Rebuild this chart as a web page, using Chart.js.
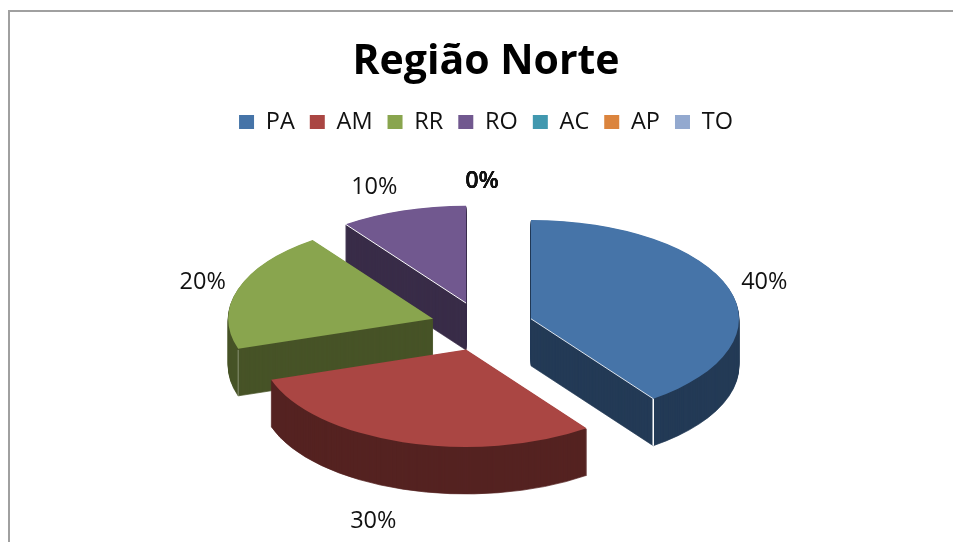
<!DOCTYPE html>
<html>
<head>
<meta charset="utf-8">
<title>Região Norte</title>
<script src="https://cdn.jsdelivr.net/npm/chart.js@4"></script>
<style>
    html, body { margin: 0; padding: 0; background: #fff; overflow: hidden; }
    #frame {
        position: absolute; left: 8px; top: 10px; right: 0; bottom: 0;
        border-left: 2px solid #a0a0a0; border-top: 2px solid #a0a0a0;
    }
    #wrap { position: absolute; left: 0; top: 0; width: 953px; height: 542px; }
</style>
</head>
<body>
<div id="frame"></div>
<div id="wrap"><canvas id="pie"></canvas></div>
<script>
// Data
const estados = ['PA', 'AM', 'RR', 'RO', 'AC', 'AP', 'TO'];
const percentuais = [40, 30, 20, 10, 0, 0, 0];
const cores = ['#4674A8', '#AA4643', '#89A54E', '#71588F', '#4198AF', '#DB843D', '#93A9CF'];
const coresLaterais = ['#233A56', '#552321', '#475327', '#392C48', '#214C58', '#6E421E', '#4A5468'];

// 3D look: flatten the pie and stack darker copies underneath
const tilt = 0.475;
const depth = 47;
const explode = 51.5;
const shiftX = -4;
const shiftY = 2;
const drawOrder = [3, 2, 0, 1];
const sliceScale = [1, 0.985, 0.985, 0.985, 1, 1, 1];
const labelReach = 300;
const labelNudge = [[-3, 0], [-16, 59], [6, 0], [-15, -4], [0, -3], [0, -3], [0, -3]];

const pie3d = {
    id: 'pie3d',
    beforeDatasetsDraw(chart) {
        const ctx = chart.ctx;
        const arcs = chart.getDatasetMeta(0).data;
        const cx = arcs[0].x, cy = arcs[0].y;

        const place = (arc, z, i) => {
            const mid = (arc.startAngle + arc.endAngle) / 2;
            ctx.translate(cx + shiftX + Math.cos(mid) * explode, cy + shiftY + Math.sin(mid) * explode * tilt + z);
            ctx.scale(sliceScale[i], tilt * sliceScale[i]);
            ctx.translate(-cx, -cy);
        };

        // screen position of a rim point of a slice
        const rim = (arc, i, angle, r, z) => {
            const mid = (arc.startAngle + arc.endAngle) / 2;
            const s = sliceScale[i];
            return [
                cx + shiftX + Math.cos(mid) * explode + Math.cos(angle) * r * s,
                cy + shiftY + Math.sin(mid) * explode * tilt + Math.sin(angle) * r * tilt * s + z
            ];
        };

        drawOrder.forEach(i => {
            const arc = arcs[i];
            const own = arc.options;
            // same colour border so the stacked copies leave no seams
            arc.options = Object.assign({}, own, {
                backgroundColor: coresLaterais[i],
                borderColor: coresLaterais[i],
                borderWidth: 1
            });
            for (let z = depth; z > 0; z--) {
                ctx.save();
                place(arc, z, i);
                arc.draw(ctx);
                ctx.restore();
            }
            arc.options = own;
            ctx.save();
            place(arc, 0, i);
            arc.draw(ctx);
            ctx.restore();
        });

        // thin highlights on the slice edges
        const line = (a, b, color, width) => {
            ctx.save();
            ctx.strokeStyle = color;
            ctx.lineWidth = width;
            ctx.beginPath();
            ctx.moveTo(a[0], a[1]);
            ctx.lineTo(b[0], b[1]);
            ctx.stroke();
            ctx.restore();
        };
        const pa = arcs[0], ro = arcs[3], rr = arcs[2];
        line(rim(pa, 0, pa.endAngle, pa.outerRadius, 0), rim(pa, 0, pa.endAngle, pa.outerRadius, depth), '#fff', 1.5);
        line(rim(pa, 0, pa.endAngle, 0, 0), rim(pa, 0, pa.endAngle, pa.outerRadius, 0), '#dfe6ef', 1);
        line(rim(ro, 3, ro.startAngle, 0, 0), rim(ro, 3, ro.startAngle, ro.outerRadius, 0), '#fff', 1);
        line(rim(rr, 2, rr.startAngle, rr.outerRadius, 1), rim(rr, 2, rr.startAngle, rr.outerRadius, depth), '#8b9474', 1);

        // data labels, the three empty slices land on the same spot
        ctx.save();
        ctx.fillStyle = '#111';
        ctx.textAlign = 'center';
        ctx.textBaseline = 'middle';
        arcs.forEach((arc, i) => {
            const mid = (arc.startAngle + arc.endAngle) / 2;
            const x = cx + shiftX + Math.cos(mid) * labelReach + labelNudge[i][0];
            const y = cy + shiftY + Math.sin(mid) * labelReach * tilt + labelNudge[i][1];
            ctx.font = (percentuais[i] === 0 ? '600 ' : '') + '23.5px "Open Sans"';
            ctx.fillText(percentuais[i] + '%', x, y);
        });
        ctx.restore();
        return false;
    }
};

new Chart(document.getElementById('pie'), {
    type: 'pie',
    data: {
        labels: estados,
        datasets: [{
            data: percentuais,
            backgroundColor: cores,
            borderWidth: 0
        }]
    },
    plugins: [pie3d],
    options: {
        responsive: true,
        maintainAspectRatio: false,
        animation: false,
        radius: 208,
        layout: { padding: { left: 19, bottom: 37 } },
        plugins: {
            tooltip: { enabled: false },
            title: {
                display: true,
                text: 'Região Norte',
                color: '#000',
                font: { family: '"Open Sans"', size: 41, weight: 'bold' },
                padding: { top: 38, bottom: 8 }
            },
            legend: {
                position: 'top',
                labels: {
                    boxWidth: 15,
                    boxHeight: 14,
                    padding: 15,
                    color: '#111',
                    font: { family: '"Open Sans"', size: 23.5 }
                }
            }
        }
    }
});
</script>
</body>
</html>
